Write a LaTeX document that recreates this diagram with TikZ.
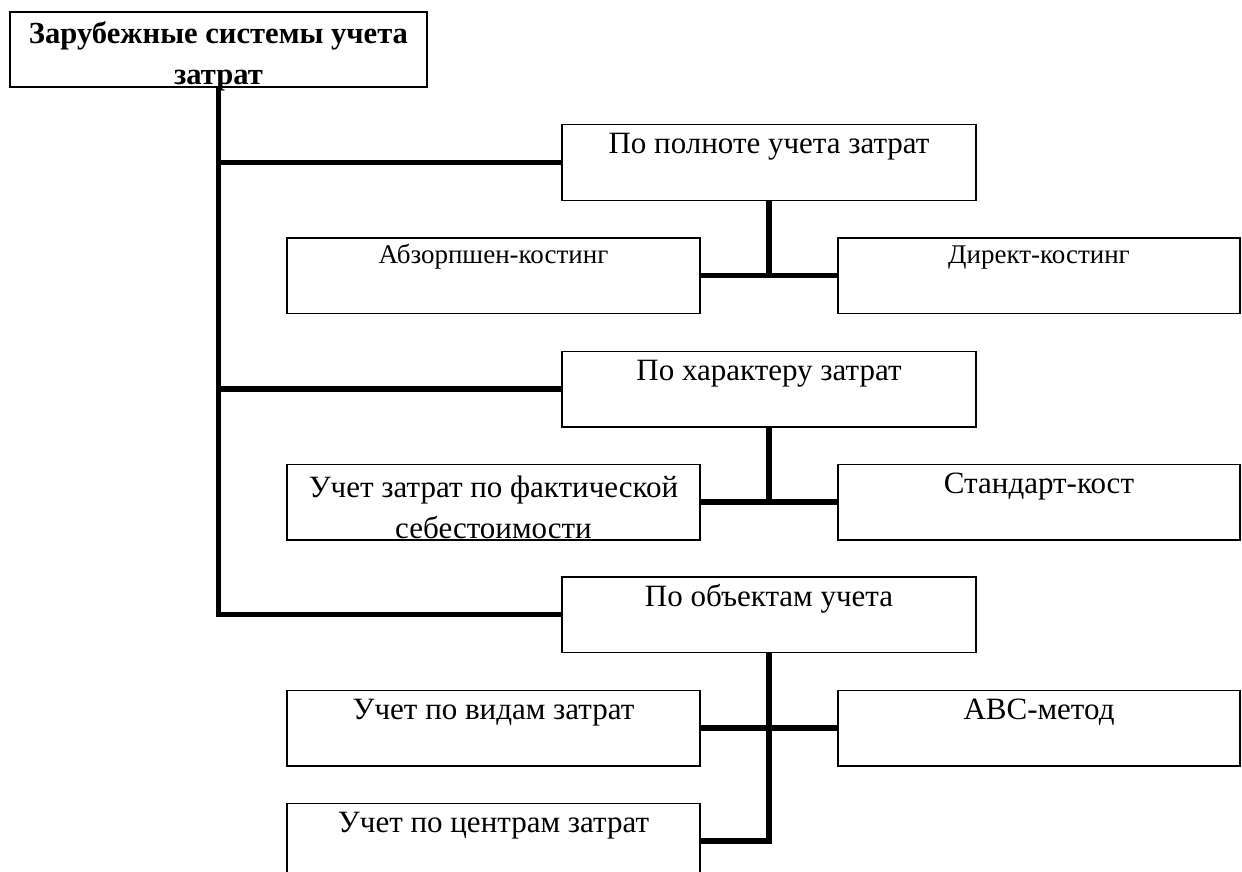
\documentclass[tikz,border=0pt]{standalone}
\usepackage{fontspec}
\setmainfont{Liberation Serif}
\begin{document}
\begin{tikzpicture}[x=0.5pt, y=-0.5pt,
    box/.style={draw, line width=0.75pt, inner sep=0pt, minimum height=37.75pt},
    mid/.style={box, minimum width=207pt},
    left/.style={box, minimum width=206.5pt},
    right/.style={box, minimum width=201pt},
    big/.style={anchor=base, yshift=-15pt, inner sep=0pt, font=\fontsize{15.5}{20.5}\selectfont},
    small/.style={anchor=base, yshift=-13pt, inner sep=0pt, font=\fontsize{13.5}{16}\selectfont},
    conn/.style={line width=2.75pt}]
    \clip (0,0) rectangle (1242,872);
    % top box
    \node[box, minimum width=208.5pt, minimum height=37.5pt] (root) at (218.5,49.5) {};
    \node[anchor=north, inner sep=0pt, align=center, font=\bfseries\fontsize{15.3}{20.5}\selectfont]
        (roottext) at ([yshift=-5pt]root.north) {Зарубежные системы учета\\затрат};
    % boxes
    \node[mid, label={[big]north:По полноте учета затрат}] (full) at (769,162.5) {};
    \node[left, label={[small]north:Абзорпшен-костинг}] (absorb) at (493.5,275.5) {};
    \node[right, label={[small]north:Директ-костинг}] (direct) at (1039,275.5) {};
    \node[mid, label={[big]north:По характеру затрат}] (nature) at (769,389) {};
    \node[left, label={[big, anchor=north, yshift=9pt, align=center]north:Учет затрат по фактической\\себестоимости}] (actual) at (493.5,502) {};
    \node[right, label={[big]north:Стандарт-кост}] (standard) at (1039,502) {};
    \node[mid, label={[big]north:По объектам учета}] (objects) at (769,614.5) {};
    \node[left, label={[big]north:Учет по видам затрат}] (kinds) at (493.5,728) {};
    \node[right, label={[big]north:ABC-метод}] (abc) at (1039,728) {};
    \node[left, label={[big]north:Учет по центрам затрат}] (centres) at (493.5,841) {};
    % connectors
    \draw[conn] (root.south) |- (full.west);
    \draw[conn] (root.south) |- (nature.west);
    \draw[conn] (root.south) |- (objects.west);
    \draw[conn] (full.south) -- (full.south |- absorb.east);
    \draw[conn] (absorb.east) -- (direct.west);
    \draw[conn] (nature.south) -- (nature.south |- actual.east);
    \draw[conn] (actual.east) -- (standard.west);
    \draw[conn] (objects.south) |- (centres.east);
    \draw[conn] (kinds.east) -- (abc.west);
\end{tikzpicture}
\end{document}
